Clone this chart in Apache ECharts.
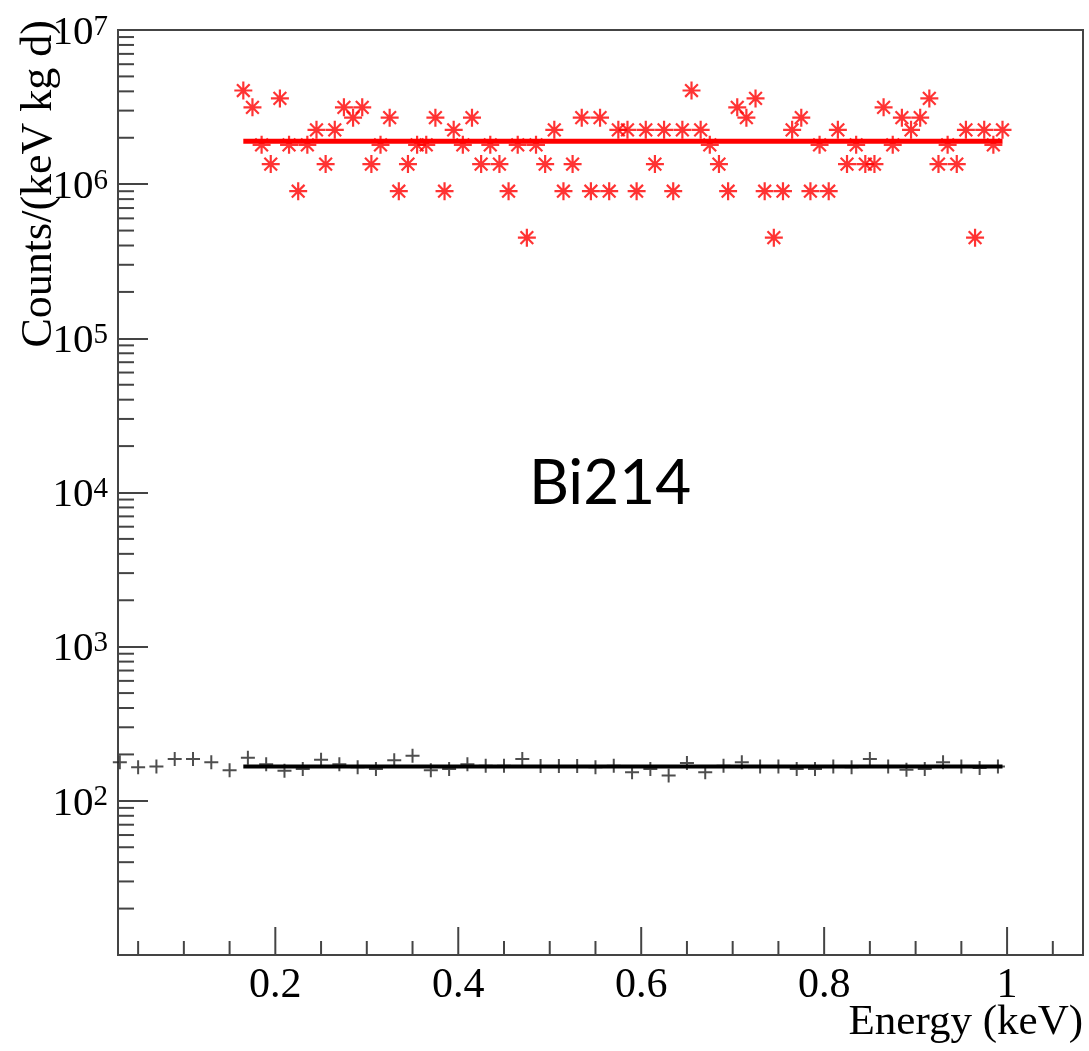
<!DOCTYPE html>
<html><head><meta charset="utf-8">
<script src="https://cdn.jsdelivr.net/npm/echarts@6/dist/echarts.min.js"></script>
<style>html,body{margin:0;padding:0;background:#fff}#c{width:1089px;height:1051px}</style>
</head><body><div id="c"></div>
<script>
// Red (asterisk) histogram: bin centres and contents
const redX = [0.165,0.175,0.185,0.195,0.205,0.215,0.225,0.235,0.245,0.255,0.265,0.275,0.285,0.295,0.305,0.315,0.325,0.335,0.345,0.355,0.365,0.375,0.385,0.395,0.405,0.415,0.425,0.435,0.445,0.455,0.465,0.475,0.485,0.495,0.505,0.515,0.525,0.535,0.545,0.555,0.565,0.575,0.585,0.595,0.605,0.615,0.625,0.635,0.645,0.655,0.665,0.675,0.685,0.695,0.705,0.715,0.725,0.735,0.745,0.755,0.765,0.775,0.785,0.795,0.805,0.815,0.825,0.835,0.845,0.855,0.865,0.875,0.885,0.895,0.905,0.915,0.925,0.935,0.945,0.955,0.965,0.975,0.985,0.995];
const redY = [4050000,3150000,1800000,1350000,3600000,1800000,900000,1800000,2250000,1350000,
              2250000,3150000,2700000,3150000,1350000,1800000,2700000,900000,1350000,1800000,
              1800000,2700000,900000,2250000,1800000,2700000,1350000,1800000,1350000,900000,
              1800000,450000,1800000,1350000,2250000,900000,1350000,2700000,900000,2700000,
              900000,2250000,2250000,900000,2250000,1350000,2250000,900000,2250000,4050000,
              2250000,1800000,1350000,900000,3150000,2700000,3600000,900000,450000,900000,
              2250000,2700000,900000,1800000,900000,2250000,1350000,1800000,1350000,1350000,
              3150000,1800000,2700000,2250000,2700000,3600000,1350000,1800000,1350000,2250000,
              450000,2250000,1800000,2250000];
// Black (plus) histogram
const blackX = [0.03,0.05,0.07,0.09,0.11,0.13,0.15,0.17,0.19,0.21,0.23,0.25,0.27,0.29,0.31,0.33,0.35,0.37,0.39,0.41,0.43,0.45,0.47,0.49,0.51,0.53,0.55,0.57,0.59,0.61,0.63,0.65,0.67,0.69,0.71,0.73,0.75,0.77,0.79,0.81,0.83,0.85,0.87,0.89,0.91,0.93,0.95,0.97,0.99];
const blackY = [178,165,167,187,187,178,158,190,173,157,161,185,173,165,161,183,196,158,
                161,173,169,169,187,168,168,168,165,169,153,161,146,176,153,169,178,167,
                167,161,161,167,165,187,167,159,161,178,167,163,167];
// Fits (constant) and fit range
const redFit = 1.9e6;
const blackFit = 167;
const fitRange = [0.165, 0.995];
// Axes
const xRange = [0.028, 1.083];
const yRange = [10, 1e7];
const xMajorTicks = [0.2, 0.4, 0.6, 0.8, 1.0];
const xTickLabels = ['0.2', '0.4', '0.6', '0.8', '1'];
const xMinorTicks = [0.05,0.1,0.15,0.25,0.3,0.35,0.45,0.5,0.55,0.65,0.7,0.75,0.85,0.9,0.95,1.05];
const yMinorTicks = [20,30,40,50,60,70,80,90,200,300,400,500,600,700,800,900,
  2000,3000,4000,5000,6000,7000,8000,9000,20000,30000,40000,50000,60000,70000,80000,90000,
  2e5,3e5,4e5,5e5,6e5,7e5,8e5,9e5,2e6,3e6,4e6,5e6,6e6,7e6,8e6,9e6];
const xTitle = 'Energy (keV)';
const yTitle = 'Counts/(keV kg d)';
const annotation = 'Bi214';

const SERIF = '"Liberation Serif", "Times New Roman", serif';
const tickColor = '#444';

const starPath = 'path://M0,-10L0,10M-10,0L10,0M-7.07,-7.07L7.07,7.07M-7.07,7.07L7.07,-7.07';
const plusPath = 'path://M0,-10L0,10M-10,0L10,0';

const chart = echarts.init(document.getElementById('c'), null, {renderer: 'canvas'});
chart.setOption({
  animation: false,
  backgroundColor: '#fff',
  grid: {left: 118, right: 6, top: 30, bottom: 96, show: true, borderColor: '#444', borderWidth: 2, backgroundColor: 'transparent'},
  xAxis: {
    type: 'value', min: xRange[0], max: xRange[1],
    axisLine: {show: false}, axisTick: {show: false}, axisLabel: {show: false}, splitLine: {show: false}
  },
  yAxis: {
    type: 'log', logBase: 10, min: yRange[0], max: yRange[1],
    axisLine: {show: false},
    axisTick: {show: true, inside: true, length: 30, lineStyle: {color: tickColor, width: 2}},
    splitLine: {show: false},
    axisLabel: {
      showMinLabel: false,
      margin: 10,
      padding: [6, 0, 0, 0],
      formatter: function (v) { return '{b|10}{s|' + Math.round(Math.log10(v)) + '}'; },
      rich: {
        b: {fontFamily: SERIF, fontSize: 41, color: '#000', lineHeight: 41},
        s: {fontFamily: SERIF, fontSize: 29, color: '#000', lineHeight: 29, verticalAlign: 'top'}
      }
    }
  },
  graphic: [
    {type: 'text', x: 39, y: 20, rotation: Math.PI / 2,
     style: {text: yTitle, font: '44px ' + SERIF, fill: '#000', align: 'right', verticalAlign: 'middle', textAlign: 'right', textVerticalAlign: 'middle'}},
    {type: 'text', x: 1083, y: 1023,
     style: {text: xTitle, font: '43px ' + SERIF, fill: '#000', align: 'right', verticalAlign: 'middle', textAlign: 'right', textVerticalAlign: 'middle'}},
    {type: 'text', x: 610, y: 484,
     style: {text: annotation, font: '62px Lato, "Open Sans", sans-serif', fill: '#000', align: 'center', verticalAlign: 'middle', textAlign: 'center', textVerticalAlign: 'middle'}}
  ],
  series: [
    // x minor ticks
    {type: 'custom', silent: true, clip: false, z: 5,
     data: xMinorTicks.map(v => [v, yRange[0]]),
     renderItem: function (params, api) {
       const p = api.coord([api.value(0), api.value(1)]);
       return {type: 'line', shape: {x1: p[0], y1: p[1], x2: p[0], y2: p[1] - 14}, style: {stroke: tickColor, lineWidth: 2}};
     }},
    // x major ticks + labels
    {type: 'custom', silent: true, clip: false, z: 5,
     data: xMajorTicks.map((v, i) => [v, yRange[0], i]),
     renderItem: function (params, api) {
       const p = api.coord([api.value(0), api.value(1)]);
       const i = api.value(2);
       return {type: 'group', children: [
         {type: 'line', shape: {x1: p[0], y1: p[1], x2: p[0], y2: p[1] - 28}, style: {stroke: tickColor, lineWidth: 2}},
         {type: 'text', x: p[0], y: p[1] + 31, style: {text: xTickLabels[i], font: '42px ' + SERIF, fill: '#000', align: 'center', verticalAlign: 'middle'}}
       ]};
     }},
    // y minor ticks
    {type: 'custom', silent: true, clip: false, z: 5,
     data: yMinorTicks.map(v => [xRange[0], v]),
     renderItem: function (params, api) {
       const p = api.coord([api.value(0), api.value(1)]);
       return {type: 'line', shape: {x1: p[0], y1: p[1], x2: p[0] + 16, y2: p[1]}, style: {stroke: tickColor, lineWidth: 2}};
     }},
    // red data
    {type: 'scatter', name: 'red', symbol: starPath, symbolSize: 18, z: 3,
     itemStyle: {color: '#ff0000', borderColor: '#ff0000', borderWidth: 2.2},
     data: redX.map((x, i) => [x, redY[i]])},
    // black data
    {type: 'scatter', name: 'black', symbol: plusPath, symbolSize: 14, z: 3,
     itemStyle: {color: '#222', borderColor: '#222', borderWidth: 2},
     data: blackX.map((x, i) => [x, blackY[i]])},
    // fits
    {type: 'line', name: 'redFit', showSymbol: false, symbol: 'none', z: 4,
     lineStyle: {color: '#ff0000', width: 5},
     data: [[fitRange[0], redFit], [fitRange[1], redFit]]},
    {type: 'line', name: 'blackFit', showSymbol: false, symbol: 'none', z: 4,
     lineStyle: {color: '#000', width: 4},
     data: [[fitRange[0], blackFit], [fitRange[1], blackFit]]}
  ]
});
</script>
</body></html>
